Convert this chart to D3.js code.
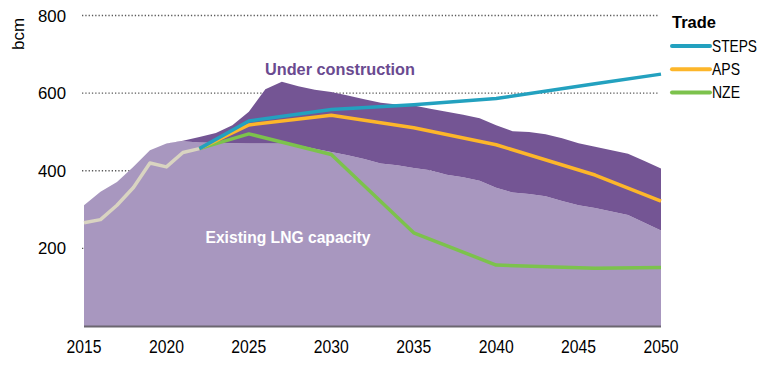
<!DOCTYPE html>
<html><head><meta charset="utf-8">
<script src="https://cdn.jsdelivr.net/npm/d3@7/dist/d3.min.js"></script>
<style>
html,body{margin:0;padding:0;background:#fff;}
svg{display:block;font-family:"Liberation Sans",Arial,sans-serif;}
</style></head>
<body>
<svg id="chart" width="780" height="369"></svg>
<script>
// ---- data ----
const capYears = d3.range(2015, 2051);
const existingCapacity = [311,346,371,410,453,470,476,473,472,471,470,470,470,466,457,448,440,430,419,414,407,401,390,383,374,356,344,340,334,322,311,304,295,286,266,246];
const underConstruction = [0,0,0,0,0,0,1,14,25,46,82,140,159,152,152,155,154,154,156,157,161,159,162,161,161,161,158,160,160,162,160,158,158,158,159,160];
const histYears = [2015,2016,2017,2018,2019,2020,2021,2022];
const histTrade = [266,274,311,357,420,410,447,457];
const scenYears = [2022,2025,2030,2035,2040,2046,2050];
const steps = [457,528,558,570,586,624,649];
const aps = [457,518,543,511,467,389,322];
const nze = [457,495,442,240,157,149,151];
const xTicks = [2015,2020,2025,2030,2035,2040,2045,2050];
const yTicks = [200,400,600,800];
const legendNames = ["STEPS","APS","NZE"];

// ---- scales ----
const svg = d3.select("#chart");
const x = d3.scaleLinear().domain([2015,2050]).range([84,661]);
const y = d3.scaleLinear().domain([0,800]).range([326,15.5]);

const colors = {existing:"#a897bf", uc:"#745594", STEPS:"#23a1bf", APS:"#fdb62a", NZE:"#7cc24c", hist:"#d9d4c1"};

// gridlines
svg.append("g").selectAll("line").data(yTicks).join("line")
  .attr("x1",82).attr("x2",659)
  .attr("y1",d=>y(d)).attr("y2",d=>y(d))
  .attr("stroke","#5a5a5a").attr("stroke-width",1.3)
  .attr("stroke-dasharray","1.3,2");

// stacked areas
const rows = capYears.map((yr,i)=>({year:yr, existing:existingCapacity[i], uc:underConstruction[i]}));
const stack = d3.stack().keys(["existing","uc"])(rows);
const area = d3.area().x(d=>x(d.data.year)).y0(d=>y(d[0])).y1(d=>y(d[1]));
svg.append("g").selectAll("path").data(stack).join("path")
  .attr("d",area)
  .attr("fill",(d,i)=> i===0 ? colors.existing : colors.uc);

// x axis baseline
svg.append("line").attr("x1",x(2015)).attr("x2",x(2050))
  .attr("y1",y(0)+0.5).attr("y2",y(0)+0.5)
  .attr("stroke","#6b6670").attr("stroke-width",2);

// lines
const line = d3.line().x(d=>x(d[0])).y(d=>y(d[1]));
svg.append("path").datum(histYears.map((yr,i)=>[yr,histTrade[i]]))
  .attr("d",line).attr("fill","none").attr("stroke",colors.hist)
  .attr("stroke-width",3.5).attr("stroke-linejoin","round");
const scen = [["NZE",nze],["APS",aps],["STEPS",steps]];
scen.forEach(([name,vals])=>{
  svg.append("path").datum(scenYears.map((yr,i)=>[yr,vals[i]]))
    .attr("d",line).attr("fill","none").attr("stroke",colors[name])
    .attr("stroke-width",3.5).attr("stroke-linejoin","round");
});

// y tick labels
svg.append("g").selectAll("text").data(yTicks).join("text")
  .attr("x",66).attr("y",d=>y(d)+6)
  .attr("text-anchor","end").attr("font-size",16.5).attr("fill","#000")
  .attr("textLength",28).attr("lengthAdjust","spacingAndGlyphs")
  .text(d=>d);

// x tick labels
svg.append("g").selectAll("text").data(xTicks).join("text")
  .attr("x",d=>x(d)).attr("y",353)
  .attr("text-anchor","middle").attr("font-size",18).attr("fill","#000")
  .attr("textLength",35).attr("lengthAdjust","spacingAndGlyphs")
  .text(d=>d);

// y axis title
svg.append("text").attr("transform","translate(24,34) rotate(-90)")
  .attr("text-anchor","middle").attr("font-size",17).text("bcm");

// area labels
svg.append("text").attr("x",340).attr("y",75).attr("text-anchor","middle")
  .attr("font-size",17).attr("font-weight","bold").attr("fill","#6a4a90")
  .attr("textLength",150).attr("lengthAdjust","spacingAndGlyphs")
  .text("Under construction");
svg.append("text").attr("x",288).attr("y",243).attr("text-anchor","middle")
  .attr("font-size",16.5).attr("font-weight","bold").attr("fill","#fff")
  .attr("textLength",165).attr("lengthAdjust","spacingAndGlyphs")
  .text("Existing LNG capacity");

// legend
const legendWidths = {STEPS:45, APS:28, NZE:28};
const lg = svg.append("g");
lg.append("text").attr("x",672).attr("y",28).attr("font-size",17)
  .attr("font-weight","bold").attr("textLength",44).attr("lengthAdjust","spacingAndGlyphs")
  .text("Trade");
legendNames.forEach((n,i)=>{
  const yy = 46 + i*23.2;
  lg.append("line").attr("x1",672).attr("x2",710).attr("y1",yy).attr("y2",yy)
    .attr("stroke",colors[n]).attr("stroke-width",4).attr("stroke-linecap","round");
  lg.append("text").attr("x",712).attr("y",yy+6).attr("font-size",16.5)
    .attr("textLength",legendWidths[n]).attr("lengthAdjust","spacingAndGlyphs").text(n);
});
</script>
</body></html>
